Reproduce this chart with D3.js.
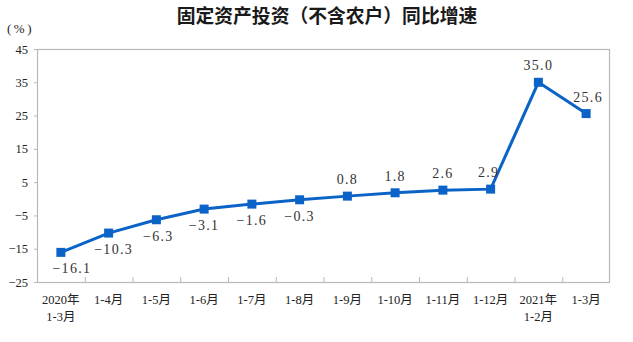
<!DOCTYPE html>
<html>
<head>
<meta charset="utf-8">
<script src="https://cdn.jsdelivr.net/npm/d3@7/dist/d3.min.js"></script>
<style>
  html, body { margin: 0; padding: 0; background: #fff; }
  svg { display: block; }
</style>
</head>
<body>
<svg id="chart" width="633" height="342"></svg>
<script>
// Fixed-asset investment (excluding rural households), cumulative YoY growth, %
const categories = [
  ["2020年", "1-3月"], ["1-4月"], ["1-5月"], ["1-6月"], ["1-7月"], ["1-8月"],
  ["1-9月"], ["1-10月"], ["1-11月"], ["1-12月"], ["2021年", "1-2月"], ["1-3月"]
];
const growth = [-16.1, -10.3, -6.3, -3.1, -1.6, -0.3, 0.8, 1.8, 2.6, 2.9, 35.0, 25.6];
const yTicks = [-25, -15, -5, 5, 15, 25, 35, 45];

const title = "固定资产投资（不含农户）同比增速";
const unit = "(%)";

const blue = "#0b63c8";
const frame = "#b8b8b8";
const ink = "#222";

const svg = d3.select("#chart");
const plot = { left: 37, right: 610, top: 49, bottom: 282 };

const keys = categories.map((c, i) => i);
const x = d3.scaleBand().domain(keys).range([plot.left, plot.right]).padding(0);
const y = d3.scaleLinear().domain([-25, 45]).range([plot.bottom, plot.top]);

// title and unit
svg.append("text")
  .attr("x", 327).attr("y", 23)
  .attr("text-anchor", "middle")
  .attr("font-family", "'Noto Sans CJK SC', sans-serif")
  .attr("font-weight", 700)
  .attr("font-size", 18.8)
  .attr("fill", "#1a1a1a")
  .text(title);

svg.append("text")
  .attr("x", 7).attr("y", 33)
  .attr("font-family", "'Liberation Serif', serif")
  .attr("font-size", 13)
  .attr("letter-spacing", 2.5)
  .attr("fill", ink)
  .text(unit);

// plot frame
svg.append("rect")
  .attr("x", plot.left + 0.5).attr("y", plot.top + 0.5)
  .attr("width", plot.right - plot.left - 1).attr("height", plot.bottom - plot.top)
  .attr("fill", "none")
  .attr("stroke", frame)
  .attr("stroke-width", 1.2);

// y axis
const yAxis = svg.append("g")
  .attr("transform", `translate(${plot.left},0)`)
  .call(d3.axisLeft(y).tickValues(yTicks).tickSize(3).tickPadding(6).tickFormat(d3.format("d")));
yAxis.select(".domain").remove();
yAxis.selectAll(".tick line").attr("stroke", frame);
yAxis.selectAll(".tick text")
  .attr("font-family", "'Liberation Serif', serif")
  .attr("font-size", 12.5)
  .attr("fill", ink);

// category separators along the bottom edge
const bounds = keys.slice(1).map(k => x(k));
svg.append("g").selectAll("line").data(bounds).join("line")
  .attr("x1", d => d + 0.5).attr("x2", d => d + 0.5)
  .attr("y1", plot.bottom - 5).attr("y2", plot.bottom + 1)
  .attr("stroke", frame)
  .attr("stroke-width", 1);

// category labels
const cx = k => x(k) + x.bandwidth() / 2;
const catG = svg.append("g")
  .attr("font-family", "'Liberation Serif', 'Noto Sans CJK SC', serif")
  .attr("font-size", 12.5)
  .attr("fill", ink)
  .attr("text-anchor", "middle");
categories.forEach((lines, k) => {
  const t = catG.append("text").attr("x", cx(k)).attr("y", plot.bottom + 22);
  lines.forEach((ln, j) => {
    t.append("tspan").attr("x", cx(k)).attr("dy", j === 0 ? 0 : 17).text(ln);
  });
});

// series line
const line = d3.line().x((d, i) => cx(i)).y(d => y(d));
svg.append("path")
  .datum(growth)
  .attr("d", line)
  .attr("fill", "none")
  .attr("stroke", blue)
  .attr("stroke-width", 3)
  .attr("stroke-linejoin", "miter");

// square markers
const m = 9;
svg.append("g").selectAll("rect").data(growth).join("rect")
  .attr("x", (d, i) => cx(i) - m / 2)
  .attr("y", d => y(d) - m / 2)
  .attr("width", m).attr("height", m)
  .attr("fill", blue);

// value labels: below the point for negatives, above for positives
const nudgeX = [11, 5, 2, 0, 0, 0, 0, 0, 0, -2, 0, 2];
svg.append("g").selectAll("text").data(growth).join("text")
  .attr("x", (d, i) => cx(i) + nudgeX[i])
  .attr("y", d => d < 0 ? y(d) + 21 : y(d) - 12)
  .attr("text-anchor", "middle")
  .attr("font-family", "'Liberation Serif', serif")
  .attr("font-size", 14)
  .attr("letter-spacing", 1.3)
  .attr("fill", "#333")
  .text(d => d.toFixed(1).replace("-", "−"));
</script>
</body>
</html>
